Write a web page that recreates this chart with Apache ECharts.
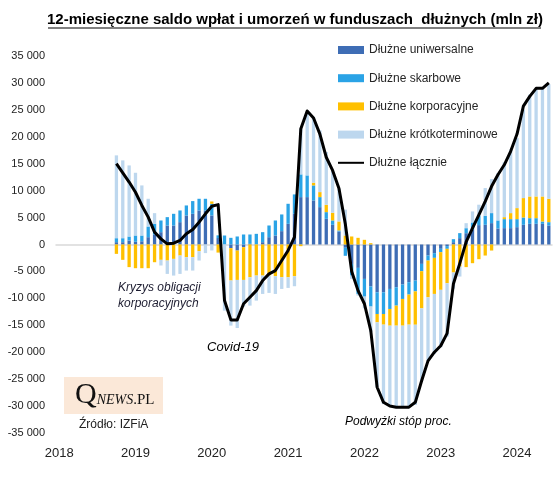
<!DOCTYPE html>
<html>
<head>
<meta charset="utf-8">
<script src="https://cdn.jsdelivr.net/npm/echarts@6.0.0/dist/echarts.min.js"></script>
<style>
  html, body { margin: 0; padding: 0; background: #fff; }
  #chart { width: 556px; height: 480px; }
</style>
</head>
<body>
<div id="chart"></div>
<script>
// miesiące od 2018-01 do 2024-06, dane od 2018-10
const startYear = 2018;
const monthCount = 78;
const lead = 9;

const uniwersalne = [
  430, 430, 740, 500, 600, 1360, 1860, 2290, 3530, 3530, 4150, 5390,
  5700, 6320, 6320, 5390, 1200, 0, -680, -1120, -500, 120, 0, 430,
  1360, 1670, 2480, 3840, 5700, 8800, 8800, 8180, 6940, 4770, 3660, 2420,
  -600, -3600, -4340, -6390, -7800, -8870, -8870, -8250, -7940, -7440, -7000, -6700,
  -3600, -2050, -1610, -800, -300, 430, 1180, 2100, 2730, 3600, 3660, 3970,
  2980, 3040, 3040, 3220, 3660, 3840, 3840, 3840, 3530
];
const skarbowe = [
  740, 740, 740, 1170, 1070, 1980, 1980, 2170, 1550, 2170, 2170, 1860,
  2360, 2170, 2170, 2170, 500, 1670, 1240, 1490, 1860, 1740, 1980, 1860,
  2170, 2790, 3100, 3720, 3600, 4220, 4030, 2790, 1860, 1240, 810, 190,
  -1500, -2170, -4840, -3290, -3720, -4030, -4030, -3720, -3410, -2670, -2300, -2000,
  -1360, -930, -870, -620, -500, 560, 930, 930, 1360, 1740, 1670, 1860,
  1490, 1670, 1670, 1490, 1360, 1050, 1050, 430, 620
];
const korporacyjne = [
  -1740, -2850, -4200, -4400, -4400, -4400, -3290, -2850, -2980, -2670, -2050, -2360,
  -2360, -1240, 0, 430, -1500, 0, -6010, -5460, -6080, -6080, -5770, -5770,
  -5770, -5890, -6080, -6080, -5890, -310, 0, 500, 930, 1360, 1430, 1670,
  1670, 1490, 1240, 870, 250, -1550, -1980, -3100, -3720, -4960, -5580, -6200,
  -6900, -6820, -6700, -7000, -6390, -5200, -4090, -4200, -3470, -2730, -2050, -1120,
  0, 370, 1120, 2050, 3600, 4030, 4030, 4650, 4340
];
const krotkoterminowe = [
  15380, 14450, 13200, 11650, 9300, 5150, 1980, -1050, -2480, -3100, -3410, -2480,
  -2480, -1740, -1600, -1100, 0, -12280, -8370, -8930, -4960, -5270, -4650, -3410,
  -3220, -3290, -2170, -1980, -1860, 8500, 11780, 12210, 11470, 9800, 7870, 6080,
  4800, -600, -300, -2200, -4730, -12000, -14760, -14900, -15060, -15060, -15250, -14900,
  -13440, -11780, -11160, -10660, -9920, -3000, -1860, 930, 2050, 2050, 5150, 6320,
  8800, 10170, 11780, 13020, 16430, 18900, 19960, 19960, 21270
];
const lacznie = [
  15000, 13300, 11600, 9700, 7250, 5080, 2300, 1050, 120, 250, 750, 2000,
  2800, 4150, 5700, 7100, 7400, -10400, -14000, -14000, -11000, -9800, -8560, -6700,
  -5460, -4840, -2980, -1100, 1360, 21500, 24800, 23500, 20500, 16200, 13760, 10400,
  3800, -5000, -8560, -11000, -16000, -26500, -29300, -30000, -30200, -30200, -30200, -29300,
  -25300, -21600, -20000, -18800, -16500, -7300, -3500, 500, 3040, 5500, 8000, 10800,
  12960, 14800, 17300, 20500, 25700, 27500, 29000, 29000, 30000
];

const names = ['Dłużne uniwersalne', 'Dłużne skarbowe', 'Dłużne korporacyjne', 'Dłużne krótkoterminowe', 'Dłużne łącznie'];
const colors = ['#3e6db5', '#2aa3e6', '#ffc000', '#bdd7ee', '#000000'];

const months = [];
for (let i = 0; i < monthCount; i++) {
  const y = startYear + Math.floor(i / 12);
  const m = (i % 12) + 1;
  months.push(y + '-' + (m < 10 ? '0' + m : m));
}

function pad(arr) {
  const out = new Array(lead).fill(null).concat(arr);
  while (out.length < monthCount) out.push(null);
  return out;
}

function fmt(v) {
  const s = Math.abs(v).toString().replace(/\B(?=(\d{3})+(?!\d))/g, ' ');
  return (v < 0 ? '-' : '') + s;
}

const chart = echarts.init(document.getElementById('chart'));
const font = 'Liberation Sans';

const barSeries = [uniwersalne, skarbowe, korporacyjne, krotkoterminowe].map(function(d, i) {
  return {
    name: names[i],
    type: 'bar',
    stack: 'fund',
    barWidth: '52%',
    xAxisIndex: 0,
    itemStyle: { color: colors[i] },
    data: pad(d)
  };
});

const option = {
  animation: false,
  textStyle: { fontFamily: font },
  title: {
    text: '12-miesięczne saldo wpłat i umorzeń w funduszach  dłużnych (mln zł)',
    left: 47,
    top: 12,
    padding: 0,
    textStyle: { fontSize: 15, fontWeight: 'bold', color: '#000', fontFamily: font }
  },
  legend: {
    orient: 'vertical',
    left: 337,
    top: 44,
    padding: 0,
    itemWidth: 26,
    itemHeight: 8,
    itemGap: 16.2,
    textStyle: { fontSize: 12, color: '#262626', fontFamily: font },
    data: [
      { name: names[0], icon: 'rect' },
      { name: names[1], icon: 'rect' },
      { name: names[2], icon: 'rect' },
      { name: names[3], icon: 'rect' },
      { name: names[4], itemStyle: { opacity: 0 } }
    ]
  },
  grid: { left: 56, right: 4, top: 56, bottom: 47 },
  xAxis: [
    {
      type: 'category',
      data: months,
      axisLine: { onZero: true, lineStyle: { color: '#d9d9d9', width: 1.5 } },
      axisTick: {
        interval: function(i) { return i % 12 === 0; },
        length: 5,
        lineStyle: { color: '#d0d0d0' }
      },
      axisLabel: { show: false }
    },
    {
      type: 'category',
      data: months,
      position: 'bottom',
      axisLine: { show: false, onZero: false },
      axisTick: { show: false },
      axisLabel: {
        interval: function(i) { return i % 12 === 0; },
        formatter: function(v) { return v.slice(0, 4); },
        color: '#222',
        fontSize: 13,
        margin: 14
      }
    }
  ],
  yAxis: {
    type: 'value',
    min: -35000,
    max: 35000,
    interval: 5000,
    splitLine: { show: false },
    axisLine: { show: false },
    axisTick: { show: false },
    axisLabel: { formatter: fmt, color: '#222', fontSize: 11, margin: 11 }
  },
  series: barSeries.concat([{
    name: names[4],
    type: 'line',
    xAxisIndex: 0,
    symbol: 'none',
    z: 5,
    lineStyle: { color: colors[4], width: 3, join: 'round' },
    itemStyle: { color: colors[4] },
    data: pad(lacznie)
  }]),
  graphic: [
    { type: 'line', shape: { x1: 48, y1: 28, x2: 541, y2: 28 }, style: { stroke: '#000', lineWidth: 1.2 } },
    { type: 'text', left: 118, top: 282, style: { text: 'Kryzys obligacji', font: 'italic 12px "Liberation Sans"', fill: '#1c1c30' } },
    { type: 'text', left: 118, top: 298, style: { text: 'korporacyjnych', font: 'italic 12px "Liberation Sans"', fill: '#1c1c30' } },
    { type: 'text', left: 207, top: 341, style: { text: 'Covid-19', font: 'italic 13px "Liberation Sans"', fill: '#000' } },
    { type: 'text', left: 345, top: 416, style: { text: 'Podwyżki stóp proc.', font: 'italic 12px "Liberation Sans"', fill: '#000' } },
    { type: 'rect', shape: { x: 64, y: 377, width: 99, height: 37 }, style: { fill: '#fbe8d8' } },
    {
      type: 'text', left: 75, top: 380,
      style: {
        text: '{q|Q}{n|NEWS}{p|.PL}',
        rich: {
          q: { font: '30px "Liberation Serif"', fill: '#111' },
          n: { font: 'italic 14px "Liberation Serif"', fill: '#111', padding: [10, 0, 0, 0] },
          p: { font: '15px "Liberation Serif"', fill: '#111', padding: [10, 0, 0, 0] }
        }
      }
    },
    { type: 'text', left: 79, top: 419, style: { text: 'Źródło: IZFiA', font: '12px "Liberation Sans"', fill: '#222' } }
  ]
};

chart.setOption(option);
</script>
</body>
</html>
